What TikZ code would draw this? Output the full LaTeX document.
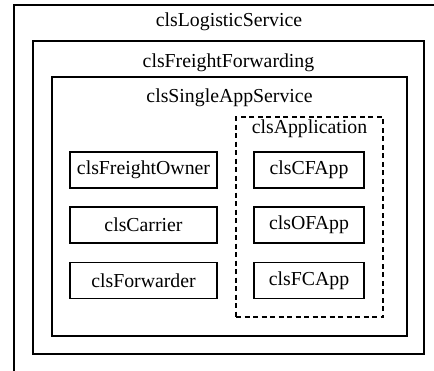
\documentclass[tikz,border=0pt]{standalone}
\usepackage{fontspec}
\setmainfont{Liberation Serif}
\begin{document}
\begin{tikzpicture}[x=1pt,y=-1pt,
  frame/.style={draw,line width=1.2pt,inner sep=0pt},
  dframe/.style={draw,line width=1.2pt,dashed,dash pattern=on 5pt off 3.5pt,inner sep=0pt},
  cls/.style={draw,line width=1.2pt,inner sep=0pt,minimum height=36pt,font=\fontsize{19.8}{22}\selectfont},
  lbl/.style={inner sep=0pt,font=\fontsize{19.8}{22}\selectfont,anchor=base}]
\useasboundingbox (0,0) rectangle (434,370);
\clip (0,0) rectangle (434,370);
\fill[white] (0,0) rectangle (434,370);
% containers
\node[frame,minimum width=440pt,minimum height=380pt] (ls) at (234,195) {};
\node[frame,minimum width=391pt,minimum height=313pt] (ff) at (228.5,197.5) {};
\node[frame,minimum width=355pt,minimum height=259pt] (sas) at (229.5,206.5) {};
\node[dframe,minimum width=147pt,minimum height=200pt] (app) at (309.5,217) {};
% labels
\node[lbl] (lsl) at (229,26) {clsLogisticService};
\node[lbl] (ffl) at (228.5,67) {clsFreightForwarding};
\node[lbl] (sasl) at (229.5,102) {clsSingleAppService};
\node[lbl] (appl) at (309.5,133) {clsApplication};
% classes
\node[cls,minimum width=147pt] (fo) at (143.5,170) {clsFreightOwner};
\node[cls,minimum width=147pt] (ca) at (143.5,225) {clsCarrier};
\node[cls,minimum width=147pt] (fw) at (143.5,280.5) {clsForwarder};
\node[cls,minimum width=110pt] (cf) at (309,170) {clsCFApp};
\node[cls,minimum width=110pt] (of) at (309,225) {clsOFApp};
\node[cls,minimum width=110pt] (fc) at (309,280.5) {clsFCApp};
\end{tikzpicture}
\end{document}
